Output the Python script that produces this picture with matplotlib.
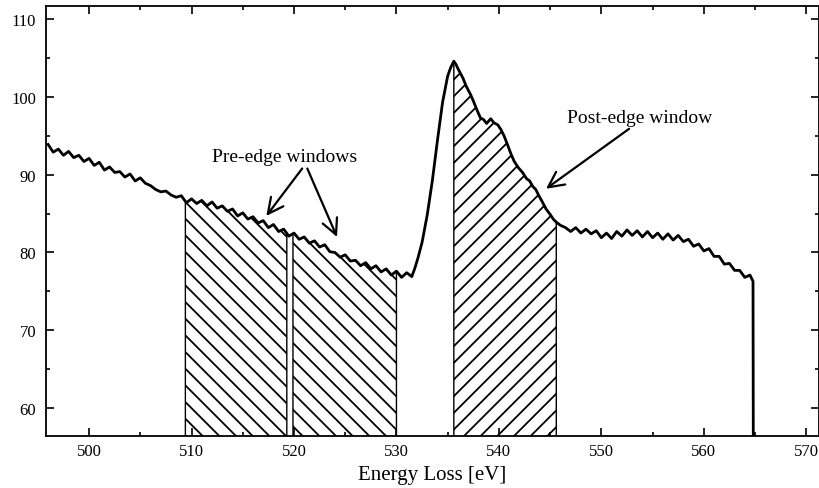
import numpy as np
import matplotlib.pyplot as plt
from matplotlib.ticker import MultipleLocator

# spectrum (energy loss in eV, counts in arbitrary units)
energy = [496.0, 496.5, 497.0, 497.5, 498.0, 498.5, 499.0, 499.5, 500.0, 500.5,
          501.0, 501.5, 502.0, 502.5, 503.0, 503.5, 504.0, 504.5, 505.0, 505.5,
          506.0, 506.5, 507.0, 507.5, 508.0, 508.5, 509.0, 509.5, 510.0, 510.5,
          511.0, 511.5, 512.0, 512.5, 513.0, 513.5, 514.0, 514.5, 515.0, 515.5,
          516.0, 516.5, 517.0, 517.5, 518.0, 518.5, 519.0, 519.5, 520.0, 520.5,
          521.0, 521.5, 522.0, 522.5, 523.0, 523.5, 524.0, 524.5, 525.0, 525.5,
          526.0, 526.5, 527.0, 527.5, 528.0, 528.5, 529.0, 529.5, 530.0, 530.5,
          531.0, 531.5, 531.8, 532.1, 532.5, 533.0, 533.5, 534.0, 534.5, 535.0,
          535.3, 535.6, 535.8, 536.1, 536.5, 536.8, 537.2, 537.5, 537.9, 538.2,
          538.5, 538.8, 539.2, 539.5, 539.9, 540.2, 540.5, 540.8, 541.2, 541.5,
          541.9, 542.3, 542.7, 543.0, 543.3, 543.6, 543.9, 544.2, 544.6, 545.0,
          545.3, 545.6, 546.0, 546.5, 547.0, 547.5, 548.0, 548.5, 549.0, 549.5,
          550.0, 550.5, 551.0, 551.5, 552.0, 552.5, 553.0, 553.5, 554.0, 554.5,
          555.0, 555.5, 556.0, 556.5, 557.0, 557.5, 558.0, 558.5, 559.0, 559.5,
          560.0, 560.5, 561.0, 561.5, 562.0, 562.5, 563.0, 563.5, 564.0, 564.5,
          564.8, 564.9]
counts = [93.9, 92.9, 93.3, 92.5, 93.0, 92.2, 92.5, 91.7, 92.1, 91.2,
          91.6, 90.6, 91.0, 90.3, 90.4, 89.7, 90.1, 89.2, 89.6, 88.9,
          88.6, 88.1, 87.8, 87.9, 87.4, 87.1, 87.3, 86.4, 86.9, 86.3,
          86.7, 86.0, 86.5, 85.7, 86.0, 85.3, 85.6, 84.7, 85.1, 84.3,
          84.6, 83.8, 84.1, 83.2, 83.6, 82.7, 83.0, 82.1, 82.5, 81.7,
          82.0, 81.2, 81.5, 80.7, 81.0, 80.1, 80.0, 79.4, 79.7, 78.9,
          79.0, 78.3, 78.7, 77.9, 78.3, 77.5, 77.9, 77.1, 77.6, 76.8,
          77.4, 76.9, 78.0, 79.3, 81.3, 84.8, 89.2, 94.4, 99.3, 102.7,
          103.8, 104.6, 104.2, 103.4, 102.4, 101.4, 100.4, 99.5, 98.2, 97.3,
          97.1, 96.6, 97.2, 96.7, 96.4, 95.8, 95.0, 94.0, 92.6, 91.7,
          90.9, 90.3, 89.5, 89.2, 88.5, 88.1, 87.3, 86.6, 85.6, 84.9,
          84.3, 83.9, 83.5, 83.2, 82.7, 83.2, 82.5, 83.0, 82.4, 82.8,
          81.9, 82.5, 81.8, 82.7, 82.1, 82.9, 82.2, 82.8, 82.0, 82.7,
          81.9, 82.5, 81.7, 82.4, 81.6, 82.2, 81.4, 81.7, 80.8, 81.1,
          80.2, 80.5, 79.5, 79.5, 78.5, 78.6, 77.7, 77.7, 76.8, 77.1,
          76.3, 0.0]

# integration windows (eV)
pre_windows = [(509.4, 519.3), (519.9, 530.0)]
post_window = (535.6, 545.6)

pre_label = "Pre-edge windows"
post_label = "Post-edge window"
x_label = "Energy Loss [eV]"

plt.rcParams['font.family'] = ['Liberation Serif', 'DejaVu Serif']
plt.rcParams['font.size'] = 14
plt.rcParams['hatch.linewidth'] = 1.3

energy = np.array(energy)
counts = np.array(counts)


def window_fill(ax, lo, hi, hatch):
    inside = (energy > lo) & (energy < hi)
    xs = np.concatenate([[lo], energy[inside], [hi]])
    ys = np.interp(xs, energy, counts)
    ax.fill_between(xs, ys, 0, facecolor='white', edgecolor='black',
                    linewidth=1.0, hatch=hatch, zorder=1)


fig = plt.figure(figsize=(8.19, 4.89), dpi=100)
ax = fig.add_axes([0.0562, 0.1063, 0.9433, 0.8794])

for lo, hi in pre_windows:
    window_fill(ax, lo, hi, '\\\\')
window_fill(ax, post_window[0], post_window[1], '//')

ax.plot(energy, counts, color='black', linewidth=2.0, zorder=3)

ax.set_xlim(495.8, 571.2)
ax.set_ylim(56.4, 111.7)
ax.xaxis.set_major_locator(MultipleLocator(10))
ax.xaxis.set_minor_locator(MultipleLocator(5))
ax.yaxis.set_major_locator(MultipleLocator(10))
ax.yaxis.set_minor_locator(MultipleLocator(5))
ax.tick_params(which='both', direction='in', top=True, right=True, width=1.2,
               labelsize=12)
ax.tick_params(which='major', length=6)
ax.tick_params(which='minor', length=3)
ax.tick_params(axis='x', pad=5)
ax.tick_params(axis='y', pad=7)
for s in ax.spines.values():
    s.set_linewidth(1.3)

ax.set_xlabel(x_label, fontsize=15, labelpad=4)

# annotations
ax.text(519.1, 92.4, pre_label, ha='center', va='center')
arrow = dict(arrowstyle='->, head_length=0.8, head_width=0.4', lw=1.6, color='black',
             shrinkA=0, shrinkB=0)
ax.annotate('', xy=(517.3, 84.7), xytext=(520.8, 90.8), arrowprops=arrow)
ax.annotate('', xy=(524.2, 82.0), xytext=(521.3, 90.8), arrowprops=arrow)

ax.text(553.7, 97.4, post_label, ha='center', va='center')
ax.annotate('', xy=(544.6, 88.2), xytext=(552.7, 95.9), arrowprops=arrow)

fig.savefig('out.png', dpi=100)
